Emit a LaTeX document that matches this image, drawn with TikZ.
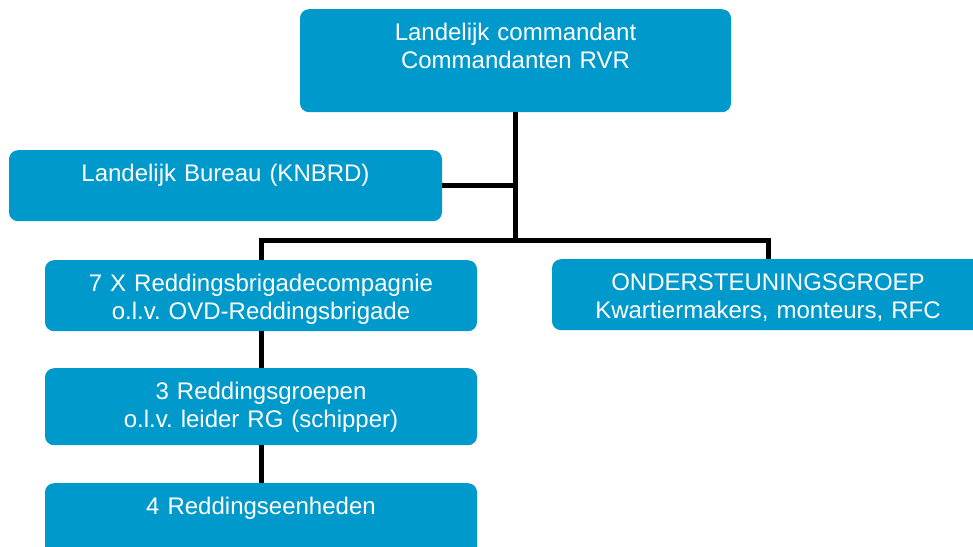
\documentclass[tikz,border=0pt]{standalone}
\usepackage{fontspec}
\setmainfont{Liberation Sans}
\definecolor{rvr}{HTML}{0099CC}

\begin{document}
\begin{tikzpicture}[x=1pt,y=-1pt,
  unit/.style={fill=rvr,rounded corners=9pt,text=white,
    font=\fontsize{24}{28}\selectfont\frenchspacing,align=center,anchor=north,
    inner sep=0pt,text height=31pt,text width=432pt,text depth=#1},
  unit/.default=40pt,
  link/.style={line width=5pt,black}]
  \useasboundingbox (0,0) rectangle (973,546);
  \clip (0,0) rectangle (973,546);

  % command level
  \node[unit=72pt,text width=431pt] (top) at (515.5,9)
    {Landelijk commandant\\Commandanten RVR};
  \node[unit,text width=433pt] (bureau) at (225.5,150)
    {Landelijk Bureau (KNBRD)};

  % operational line
  \node[unit] (brigade) at (261,260)
    {7 X Reddingsbrigadecompagnie\\o.l.v. OVD-Reddingsbrigade};
  \node[unit=46pt] (groups) at (261,368)
    {3 Reddingsgroepen\\o.l.v. leider RG (schipper)};
  \node[unit=60pt] (teams) at (261,483)
    {4 Reddingseenheden};
  \node[unit] (support) at (768,259)
    {ONDERSTEUNINGSGROEP\\Kwartiermakers, monteurs, RFC};

  % connectors
  \path (top.south) ++(0,128) coordinate (bus);
  \draw[link] (top.south) -- (bus);
  \draw[link] (bureau.east) -- (bureau.east -| top.south);
  \draw[link] (brigade.north) |- (bus) -| (support.north);
  \draw[link] (brigade.south) -- (groups.north);
  \draw[link] (groups.south) -- (teams.north);
\end{tikzpicture}
\end{document}
